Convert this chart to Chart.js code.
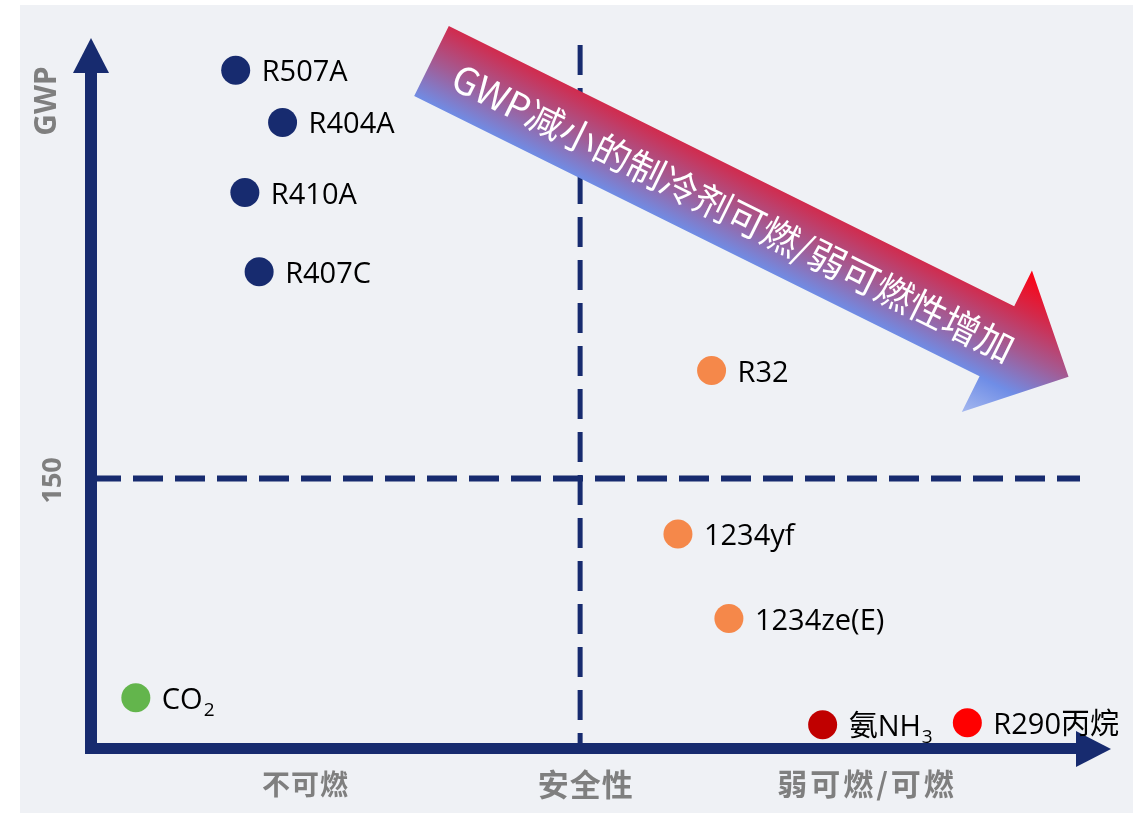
<!DOCTYPE html>
<html lang="zh-CN">
<head>
<meta charset="utf-8">
<title>制冷剂 GWP 与安全性</title>
<script src="https://cdn.jsdelivr.net/npm/chart.js@4/dist/chart.umd.min.js"></script>
<style>
  html, body { margin: 0; padding: 0; background: #fff; }
  #wrap { width: 1135px; height: 815px; }
</style>
</head>
<body>
<div id="wrap"><canvas id="gwpChart" width="1135" height="815"></canvas></div>
<script>
// 制冷剂：名称（"_" 之后为下标）、安全性位置、GWP 位置、类别
const names  = ['R507A', 'R404A', 'R410A', 'R407C', 'R32', '1234yf', '1234ze(E)', 'CO_2', '氨NH_3', 'R290丙烷'];
const safety = [1.42, 1.88, 1.51, 1.65, 6.09, 5.76, 6.26, 0.44, 7.18, 8.60];
const gwp    = [377, 348, 309, 265, 210, 119, 72, 28, 13, 14];
const kinds  = ['hfc', 'hfc', 'hfc', 'hfc', 'a2l', 'a2l', 'a2l', 'co2', 'nh3', 'hc'];

// 坐标轴文字
const yTitle = 'GWP';
const gwpMark = 150;          // 水平虚线
const safetyDivide = 4.8;     // 竖直虚线
const safetyLabels = ['不可燃', '安全性', '弱可燃/可燃'];
const safetyLabelAt = [2.1, 4.85, 7.6];
const trendText = 'GWP减小的制冷剂可燃/弱可燃性增加';

const NAVY = '#172b6f';
const GREY = '#7f7f7f';
const kindColor = { hfc: NAVY, a2l: '#f5884a', co2: '#63b54c', nh3: '#c00000', hc: '#ff0000' };
const labelFont = '"Open Sans", "Noto Sans CJK SC", sans-serif';
const cjkFont = '"Noto Sans CJK SC", sans-serif';
const bottomSizes = [28, 31, 30];
const bottomSpacing = [1, 1, 3];

function tri(ctx, pts) {
    ctx.beginPath();
    ctx.moveTo(pts[0][0], pts[0][1]);
    ctx.lineTo(pts[1][0], pts[1][1]);
    ctx.lineTo(pts[2][0], pts[2][1]);
    ctx.closePath();
    ctx.fill();
}

// 名称与下标
function drawName(ctx, text, x, y) {
    const [main, sub] = text.split('_');
    ctx.font = '29px ' + labelFont;
    ctx.fillText(main, x, y + 11);
    if (sub) {
        const w = ctx.measureText(main).width;
        ctx.font = '19px ' + labelFont;
        ctx.fillText(sub, x + w + 1, y + 18);
    }
}

const decor = {
    id: 'decor',
    beforeDraw(chart) {
        const ctx = chart.ctx;
        ctx.save();
        ctx.fillStyle = '#eff1f5';
        ctx.fillRect(20, 5, 1113, 808);
        ctx.restore();
    },
    beforeDatasetsDraw(chart) {
        const { ctx, chartArea: a, scales: { x, y } } = chart;
        ctx.save();

        // 虚线分区
        ctx.strokeStyle = NAVY;
        ctx.lineWidth = 5;
        ctx.setLineDash([30, 13]);
        const dx = x.getPixelForValue(safetyDivide);
        ctx.beginPath();
        ctx.moveTo(dx, a.top + 7);
        ctx.lineTo(dx, a.bottom - 3);
        ctx.stroke();

        ctx.lineWidth = 6;
        ctx.setLineDash([30, 12]);
        const gy = y.getPixelForValue(gwpMark);
        ctx.beginPath();
        ctx.moveTo(a.left, gy);
        ctx.lineTo(a.right - 30, gy);
        ctx.stroke();
        ctx.setLineDash([]);

        // 坐标轴箭头
        ctx.fillStyle = NAVY;
        ctx.fillRect(a.left - 6, a.top + 34, 12, a.bottom - a.top - 34 + 6);
        ctx.fillRect(a.left - 6, a.bottom - 5, a.right - a.left - 34 + 6, 11);
        tri(ctx, [[a.left, a.top], [a.left - 18, a.top + 35], [a.left + 18, a.top + 35]]);
        tri(ctx, [[a.right + 1, a.bottom + 1], [a.right - 34, a.bottom - 17], [a.right - 34, a.bottom + 19]]);

        // 轴标题
        ctx.fillStyle = GREY;
        ctx.textAlign = 'center';
        ctx.textBaseline = 'middle';
        ctx.save();
        ctx.translate(a.left - 44, a.top + 63);
        ctx.rotate(-Math.PI / 2);
        ctx.font = 'bold 30px "Noto Sans", sans-serif';
        ctx.fillText(yTitle, 0, 0);
        ctx.restore();

        ctx.save();
        ctx.translate(a.left - 38, gy + 2);
        ctx.rotate(-Math.PI / 2);
        ctx.font = 'bold 27px "Noto Sans", sans-serif';
        ctx.fillText(String(gwpMark), 0, 0);
        ctx.restore();

        safetyLabels.forEach((t, i) => {
            ctx.font = 'bold ' + bottomSizes[i] + 'px ' + cjkFont;
            ctx.letterSpacing = bottomSpacing[i] + 'px';
            ctx.fillText(t, x.getPixelForValue(safetyLabelAt[i]) + bottomSpacing[i] / 2, a.bottom + 36);
        });
        ctx.letterSpacing = '0px';
        ctx.restore();
    },
    afterDatasetsDraw(chart) {
        const { ctx, chartArea: a } = chart;
        ctx.save();

        // 点旁名称
        ctx.fillStyle = '#000';
        ctx.textAlign = 'left';
        ctx.textBaseline = 'alphabetic';
        chart.getDatasetMeta(0).data.forEach((pt, i) => {
            drawName(ctx, names[i], pt.x + 26, pt.y);
        });

        // 渐变趋势箭头
        const ang = Math.atan2(280, 565);
        ctx.translate(a.left + 340.5, a.top + 23);
        ctx.rotate(ang);
        const shaft = 631, head = 80, half = 39, headHalf = 79;
        const g = ctx.createLinearGradient(0, -headHalf, 0, headHalf);
        g.addColorStop(0, '#ff0010');
        g.addColorStop(0.25, '#d22a4c');
        g.addColorStop(0.5, '#a45a92');
        g.addColorStop(0.75, '#6f8de6');
        g.addColorStop(1, '#a5b8ef');
        ctx.fillStyle = g;
        ctx.beginPath();
        ctx.moveTo(0, -half);
        ctx.lineTo(shaft, -half);
        ctx.lineTo(shaft, -headHalf);
        ctx.lineTo(shaft + head, 0);
        ctx.lineTo(shaft, headHalf);
        ctx.lineTo(shaft, half);
        ctx.lineTo(0, half);
        ctx.closePath();
        ctx.fill();

        ctx.fillStyle = '#fff';
        ctx.textAlign = 'center';
        ctx.textBaseline = 'middle';
        ctx.font = '37.5px ' + cjkFont;
        ctx.fillText(trendText, 338, 2);
        ctx.restore();
    }
};

new Chart(document.getElementById('gwpChart'), {
    type: 'scatter',
    data: {
        datasets: [{
            data: names.map((n, i) => ({ x: safety[i], y: gwp[i] })),
            pointBackgroundColor: kinds.map(k => kindColor[k]),
            pointBorderWidth: 0,
            pointRadius: 14.5,
            pointHoverRadius: 14.5
        }]
    },
    options: {
        responsive: false,
        animation: false,
        layout: { padding: { left: 91, right: 25, top: 38, bottom: 67 } },
        scales: {
            x: { type: 'linear', min: 0, max: 10, display: false },
            y: { type: 'linear', min: 0, max: 395, display: false }
        },
        plugins: {
            legend: { display: false },
            tooltip: { enabled: false }
        }
    },
    plugins: [decor]
});
</script>
</body>
</html>
